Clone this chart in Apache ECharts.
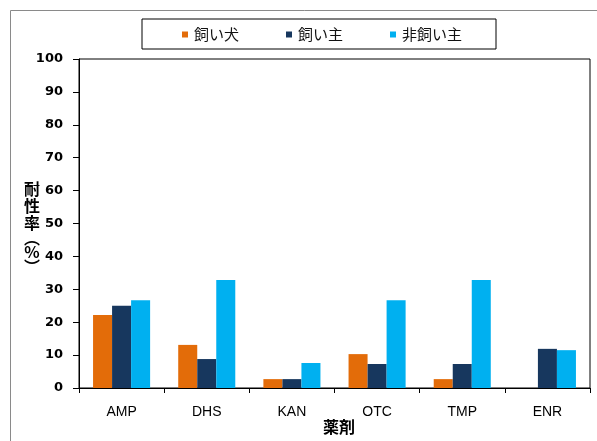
<!DOCTYPE html>
<html>
<head>
<meta charset="utf-8">
<script src="https://cdn.jsdelivr.net/npm/echarts@6/dist/echarts.min.js"></script>
<style>
  html, body { margin: 0; padding: 0; background: #fff; }
  #chart { width: 597px; height: 441px; }
</style>
</head>
<body>
<div id="chart"></div>
<script>
// 薬剤ごとの耐性率（%）
const drugs = ['AMP', 'DHS', 'KAN', 'OTC', 'TMP', 'ENR'];
const seriesNames = ['飼い犬', '飼い主', '非飼い主'];
const dogValues = [22.2, 13.1, 2.7, 10.3, 2.7, 0];
const ownerValues = [25.0, 8.8, 2.7, 7.3, 7.3, 11.9];
const nonOwnerValues = [26.7, 32.8, 7.6, 26.7, 32.8, 11.5];
const yTicks = [0, 10, 20, 30, 40, 50, 60, 70, 80, 90, 100];

const colors = ['#E36C09', '#17375E', '#00B0F0'];
const chart = echarts.init(document.getElementById('chart'), null, { renderer: 'canvas' });

const barSeries = [dogValues, ownerValues, nonOwnerValues].map((vals, i) => ({
  name: seriesNames[i],
  type: 'bar',
  data: vals,
  barGap: '0%',
  barCategoryGap: '33%',
  itemStyle: { color: colors[i] },
  silent: true
}));

const cjk = '"Noto Sans CJK JP", sans-serif';

chart.setOption({
  animation: false,
  backgroundColor: '#fff',
  textStyle: { fontFamily: cjk },
  graphic: [{
    type: 'rect',
    shape: { x: 10.5, y: 10.5, width: 620, height: 460 },
    style: { fill: 'none', stroke: '#8a8a8a', lineWidth: 1 },
    silent: true,
    z: -10
  }],
  legend: {
    data: seriesNames,
    left: 142,
    top: 19,
    orient: 'horizontal',
    padding: [8, 34, 7, 40],
    itemGap: 47,
    itemWidth: 6,
    itemHeight: 6,
    icon: 'rect',
    borderColor: '#000',
    borderWidth: 1,
    textStyle: { fontSize: 15, color: '#111', fontFamily: cjk, padding: [0, 0, 0, 1] }
  },
  grid: {
    left: 79, top: 59, right: 7, bottom: 53,
    containLabel: false,
    outerBoundsMode: 'none',
    show: true, borderColor: '#000', borderWidth: 1, backgroundColor: 'transparent'
  },
  xAxis: {
    type: 'category',
    data: drugs,
    name: '薬剤',
    nameLocation: 'middle',
    nameGap: 31,
    nameMoveOverlap: false,
    nameTextStyle: { fontSize: 16, fontWeight: 'bold', color: '#000', fontFamily: cjk, padding: [0, 0, 0, 9] },
    axisLine: { lineStyle: { color: '#000', width: 1 } },
    axisTick: { show: true, length: 5, alignWithLabel: false, lineStyle: { color: '#000' } },
    axisLabel: { margin: 17, fontSize: 14, color: '#000', fontFamily: '"Liberation Sans", sans-serif' },
    splitLine: { show: false }
  },
  yAxis: {
    type: 'value',
    min: yTicks[0],
    max: yTicks[yTicks.length - 1],
    interval: yTicks[1] - yTicks[0],
    name: '{a|耐}\n{a|性}\n{a|率}\n{p|︵}\n{a|%}\n{p|︶}',
    nameLocation: 'middle',
    nameRotate: 0,
    nameGap: 39,
    nameMoveOverlap: false,
    nameTextStyle: {
      color: '#000',
      align: 'right',
      verticalAlign: 'middle',
      padding: [6, 0, 0, 0],
      rich: {
        a: { fontSize: 16, fontWeight: 'bold', lineHeight: 17, color: '#000', fontFamily: cjk, align: 'center' },
        p: { fontSize: 16, fontWeight: 'bold', lineHeight: 12, color: '#000', fontFamily: cjk, align: 'center' }
      }
    },
    axisLine: { show: true, lineStyle: { color: '#000', width: 1 } },
    axisTick: { show: true, length: 6, inside: false, lineStyle: { color: '#000' } },
    axisLabel: { margin: 16, fontSize: 13, fontWeight: 'bold', color: '#000', fontFamily: '"DejaVu Sans", sans-serif' },
    splitLine: { show: false }
  },
  series: barSeries
});
</script>
</body>
</html>
